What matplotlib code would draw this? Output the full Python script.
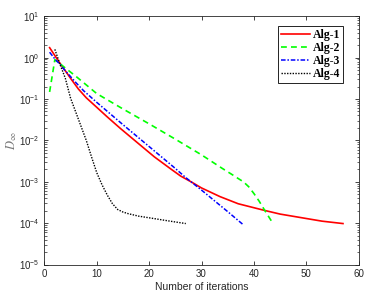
import numpy as np
import matplotlib
matplotlib.use("Agg")
import matplotlib.pyplot as plt
from matplotlib.ticker import NullFormatter

x_alg1 = [1, 2, 3, 4, 5, 6.5, 8, 10, 12, 14.5, 18, 21, 24, 26, 28, 30, 33.5, 37, 42, 45, 49.5, 53, 57]
y_alg1 = [1.74, 1.12, 0.72, 0.48, 0.316, 0.174, 0.107, 0.063, 0.037, 0.0195, 0.0083, 0.004, 0.0021,
          0.00138, 0.001, 7.1e-4, 4.4e-4, 2.95e-4, 2.04e-4, 1.66e-4, 1.33e-4, 1.12e-4, 9.8e-5]

x_alg2 = [1, 2, 3, 4, 6, 10, 15, 20, 25, 30, 34, 36, 37, 38, 39, 40, 41, 42, 43, 43.5]
y_alg2 = [0.148, 0.89, 0.71, 0.56, 0.355, 0.135, 0.0575, 0.0251, 0.0107, 0.00447, 0.00209, 0.00145,
          0.0012, 0.001, 7.6e-4, 5.2e-4, 3.4e-4, 2.1e-4, 1.32e-4, 1.05e-4]

x_alg3 = [1, 2, 3, 4, 5, 6, 7.5, 10, 15, 20, 25, 27, 30, 35, 38]
y_alg3 = [1.35, 0.93, 0.68, 0.48, 0.347, 0.25, 0.158, 0.083, 0.024, 0.0071, 0.0021, 0.00126,
          6.3e-4, 1.9e-4, 9.1e-5]

x_alg4 = [2, 3, 4, 5, 6, 7, 8, 9, 10, 11, 12, 13, 14, 15, 16, 18, 20, 22, 24, 27]
y_alg4 = [1.58, 0.68, 0.316, 0.105, 0.048, 0.0219, 0.01, 0.004, 0.00166, 8.5e-4, 4.8e-4, 2.95e-4,
          2.14e-4, 1.86e-4, 1.7e-4, 1.48e-4, 1.35e-4, 1.23e-4, 1.12e-4, 9.8e-5]

labels = ['Alg-1', 'Alg-2', 'Alg-3', 'Alg-4']
x_ticks = [0, 10, 20, 30, 40, 50, 60]
y_ticks = [1e-5, 1e-4, 1e-3, 1e-2, 1e-1, 1e0, 1e1]

plt.rcParams['font.family'] = ['Liberation Sans', 'DejaVu Sans']
plt.rcParams['mathtext.fontset'] = 'stix'

fig = plt.figure(figsize=(3.76, 3.0), dpi=100)
ax = fig.add_axes([0.118, 0.118, 0.836, 0.828])

ax.plot(x_alg1, y_alg1, color='#ff0000', lw=1.2, label=labels[0])
ax.plot(x_alg2, y_alg2, color='#00ff00', lw=1.2, ls=(0, (3.5, 2.5)), label=labels[1])
ax.plot(x_alg3, y_alg3, color='#0000ff', lw=1.1, ls=(0, (3, 1.2, 1, 1.2)), label=labels[2])
ax.plot(x_alg4, y_alg4, color='black', lw=1.0, ls=(0, (1, 1)), label=labels[3])

ax.set_yscale('log')
ax.set_xlim(0, 60)
ax.set_ylim(1e-5, 10)
ax.set_xticks(x_ticks)
ax.set_yticks(y_ticks)
# podzialka pomocnicza tylko w zakresie osi
minor = [m * d for d in y_ticks[:-1] for m in range(2, 10)]
ax.set_yticks(minor, minor=True)
ax.yaxis.set_minor_formatter(NullFormatter())

txt_col = '#262626'
ax.tick_params(which='both', direction='in', top=True, right=True, labelsize=7, colors=txt_col)
ax.tick_params(which='major', length=3, width=0.6)
ax.tick_params(which='minor', length=1.8, width=0.5)
for s in ax.spines.values():
    s.set_linewidth(0.6)
    s.set_color(txt_col)

ax.set_xlabel('Number of iterations', fontsize=7.5, color=txt_col)
ax.xaxis.set_label_coords(0.5, -0.072)
ax.set_ylabel(r'$D_{\infty}$', fontsize=9, color='#777777')
ax.yaxis.set_label_coords(-0.082, 0.5)

leg = ax.legend(loc='upper right', bbox_to_anchor=(0.951, 0.961),
                prop={'family': 'Liberation Serif', 'weight': 'bold', 'size': 8.5},
                fancybox=False, edgecolor='black', framealpha=1, handlelength=2.5,
                borderpad=0.25, labelspacing=0.1, handletextpad=0.25, borderaxespad=0)
leg.get_frame().set_linewidth(0.6)

fig.savefig('out.png', dpi=100)
